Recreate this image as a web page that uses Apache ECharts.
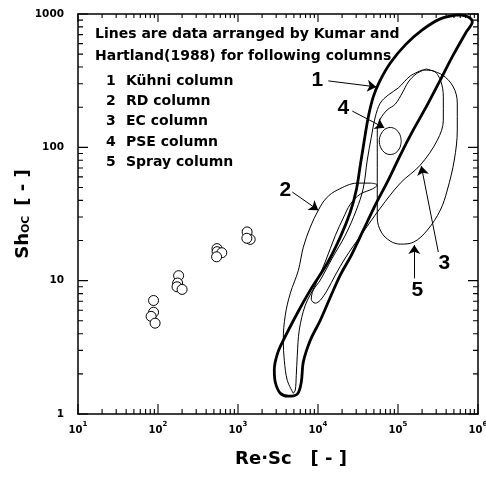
<!DOCTYPE html>
<html>
<head>
<meta charset="utf-8">
<script src="https://cdn.jsdelivr.net/npm/echarts@6/dist/echarts.min.js"></script>
<style>
  html, body { margin: 0; padding: 0; background: #fff; }
  #chart { width: 486px; height: 487px; }
</style>
</head>
<body>
<div id="chart"></div>
<script>
// ---- axis ticks ----
const xMajor = [10, 100, 1000, 10000, 100000, 1000000];
const yMajor = [1, 10, 100, 1000];
const xMinor = [];
const yMinor = [];
for (const d of [10, 100, 1000, 10000, 100000]) for (let k = 2; k < 10; k++) xMinor.push(k * d);
for (const d of [1, 10, 100]) for (let k = 2; k < 10; k++) yMinor.push(k * d);

// ---- measured points (open circles) ----
const measuredRe = [88, 88, 82, 92, 181, 176, 173, 200, 546, 548, 627, 540, 1300, 1420, 1290];
const measuredSh = [7.1, 5.8, 5.4, 4.8, 10.9, 9.6, 9.0, 8.6, 17.4, 16.5, 16.2, 15.1, 23.2, 20.4, 20.8];

// ---- data envelopes by Kumar and Hartland (1988) ----
// 1 Kühni column
const kuhniRe = [567000, 756000, 849000, 714000, 491000, 347600, 232300, 155300, 106900, 75620, 52000, 36840, 26060, 19000, 14250, 10690, 8014, 6546, 6180, 5510, 4254, 3378, 2927, 2843, 3100, 3683, 5510, 8014, 13060, 19000, 25350, 30110, 33810, 37930, 42540, 49070, 58360, 80140, 123400, 201300, 338100, 567000];
const kuhniSh = [984, 951, 873, 734, 493, 331, 208, 135, 87.5, 56.8, 36.9, 23.9, 15.5, 11.0, 7.51, 5.05, 3.57, 2.45, 1.73, 1.41, 1.36, 1.43, 1.73, 2.15, 2.81, 3.57, 5.70, 8.49, 13.5, 21.2, 32.7, 47.8, 73.6, 113, 169, 239, 309, 429, 587, 760, 919, 984];
// 2 RD column
const rdRe = [4910, 4130, 3790, 3680, 3900, 4510, 5670, 6550, 8010, 10100, 12700, 17400, 31000, 45100, 55100, 47700, 33800, 25400, 20700, 16500, 12300, 9250, 6940, 5830, 5510, 5350, 5200, 4910];
const rdSh = [1.43, 1.79, 2.53, 3.57, 5.51, 8.06, 11.9, 17.8, 25.2, 33.8, 41.6, 47.8, 53.9, 53.9, 52.1, 48.7, 44.6, 37.5, 29.5, 21.9, 13.8, 9.25, 6.55, 4.25, 2.76, 1.95, 1.51, 1.43];
// 3 EC column
const ecRe = [201300, 276300, 338100, 368500, 368500, 310100, 190000, 106900, 60100, 33810, 21940, 16450, 13060, 10690, 9251, 8240, 8734, 10690, 15100, 21940, 30110, 36840, 41300, 46370, 52000, 60100, 75620, 100900, 142500, 201300];
const ecSh = [380, 374, 320, 239, 160, 113, 73.6, 53.9, 35.0, 21.6, 14.8, 11.0, 8.49, 7.14, 6.78, 7.26, 8.49, 10.1, 14.8, 21.9, 33.8, 49.5, 80.4, 119, 169, 215, 247, 279, 343, 380];
// 4 PSE column
const pseRe = [109900, 105300, 93900, 80140, 68400, 61000, 58360, 61000, 68400, 80140, 93900, 105300, 109900];
const pseSh = [111.5, 125.2, 136.5, 140.9, 136.5, 125.2, 111.5, 99.1, 91.0, 88.3, 91.0, 99.1, 111.5];
// 5 Spray column
const sprayRe = [226000, 358100, 491200, 550900, 550900, 505400, 413300, 338100, 232300, 155300, 106900, 80140, 61860, 55080, 55080, 55080, 55080, 60100, 73470, 92500, 113200, 134500, 169300, 226000];
const spraySh = [387, 349, 284, 215, 135, 80.4, 47.8, 33.8, 23.9, 19.4, 18.8, 19.8, 23.1, 29.5, 47.8, 80.4, 135, 163, 191, 211, 256, 309, 356, 387];

// ---- callout numbers and their arrows ----
const calloutText = ['1', '2', '3', '4', '5'];
const calloutRe = [9790, 3900, 379300, 20700, 174300];
const calloutSh = [320, 47.8, 13.5, 197, 8.49];
const arrowFrom = [[13460, 315], [4773, 46.2], [319000, 16.4], [26830, 187], [159900, 10.4]];
const arrowTo = [[53550, 284], [10090, 33.8], [195400, 72.4], [67470, 140], [159900, 18.5]];

// ---- text ----
const noteLines = ['Lines are data arranged by Kumar and', 'Hartland(1988) for following columns'];
const columnNames = ['Kühni column', 'RD column', 'EC column', 'PSE column', 'Spray column'];
const xName = 'Re·Sc   [ - ]';
const yName = '{s|Sh}{o|OC}   {s|[ - ]}';

const FONT = '"DejaVu Sans", sans-serif';
const CALLOUT_FONT = 'bold 21px "Liberation Sans", Arial, sans-serif';
const pairs = (xs, ys) => xs.map((x, i) => [x, ys[i]]);
const black = '#000';
const X_MIN = 10, X_MAX = 1000000, Y_MIN = 1, Y_MAX = 1000;

// Log axes carrying the frame lines and the decade labels.
function frameAxis(kind, pos, extra) {
  return Object.assign({
    type: 'log', logBase: 10, position: pos,
    min: kind === 'x' ? X_MIN : Y_MIN, max: kind === 'x' ? X_MAX : Y_MAX,
    axisLine: { show: true, onZero: false, lineStyle: { color: black, width: 1.5 } },
    axisTick: { show: false },
    axisLabel: { show: false },
    splitLine: { show: false }
  }, extra || {});
}

const loopStyle = (w) => ({
  type: 'line', smooth: 0.35, symbol: 'none', silent: true,
  xAxisIndex: 0, yAxisIndex: 0,
  lineStyle: { color: black, width: w }
});

const chart = echarts.init(document.getElementById('chart'), null, { renderer: 'canvas' });

const textBlock = [
  ...noteLines.map((t, i) => ({
    id: 'note' + i, type: 'text', x: 95, y: 34 + i * 22, silent: true,
    style: { text: t, font: 'bold 14px ' + FONT, fill: black, verticalAlign: 'middle' }
  })),
  ...columnNames.map((t, i) => ({
    id: 'num' + i, type: 'text', x: 106, y: 81 + i * 20.3, silent: true,
    style: { text: String(i + 1), font: 'bold 14px ' + FONT, fill: black, verticalAlign: 'middle' }
  })),
  ...columnNames.map((t, i) => ({
    id: 'col' + i, type: 'text', x: 126, y: 81 + i * 20.3, silent: true,
    style: { text: t, font: 'bold 14px ' + FONT, fill: black, verticalAlign: 'middle' }
  }))
];

const option = {
  animation: false,
  backgroundColor: '#fff',
  grid: { left: 78, right: 8, top: 14, bottom: 73, outerBoundsMode: 'none' },
  xAxis: [
    frameAxis('x', 'bottom', {
      axisLabel: {
        show: true, customValues: xMajor, margin: 7,
        formatter: v => '{b|10}{e|' + Math.round(Math.log10(v)) + '}',
        rich: {
          b: { fontFamily: FONT, fontWeight: 'bold', fontSize: 10, color: black, verticalAlign: 'bottom', lineHeight: 14 },
          e: { fontFamily: FONT, fontWeight: 'bold', fontSize: 7, color: black, verticalAlign: 'top', lineHeight: 14 }
        }
      },
      name: xName, nameLocation: 'middle', nameGap: 36, nameMoveOverlap: false,
      nameTextStyle: { fontFamily: FONT, fontWeight: 'bold', fontSize: 18, color: black, padding: [0, 0, 0, 26] }
    }),
    frameAxis('x', 'top')
  ],
  yAxis: [
    frameAxis('y', 'left', {
      axisLabel: {
        show: true, customValues: yMajor, margin: 14,
        formatter: v => String(v),
        fontFamily: FONT, fontWeight: 'bold', fontSize: 10.5, color: black
      },
      name: yName, nameLocation: 'middle', nameGap: 46, nameRotate: 90, nameMoveOverlap: false,
      nameTextStyle: {
        rich: {
          s: { fontFamily: FONT, fontWeight: 'bold', fontSize: 18, color: black, verticalAlign: 'bottom' },
          o: { fontFamily: FONT, fontWeight: 'bold', fontSize: 11, color: black, verticalAlign: 'bottom' }
        }
      }
    }),
    frameAxis('y', 'right')
  ],
  series: [
    Object.assign(loopStyle(2.8), { name: 'Kühni column', data: pairs(kuhniRe, kuhniSh) }),
    Object.assign(loopStyle(1), { name: 'RD column', data: pairs(rdRe, rdSh) }),
    Object.assign(loopStyle(1), { name: 'EC column', data: pairs(ecRe, ecSh) }),
    Object.assign(loopStyle(1), { name: 'PSE column', data: pairs(pseRe, pseSh) }),
    Object.assign(loopStyle(1), { name: 'Spray column', data: pairs(sprayRe, spraySh) }),
    {
      name: 'measured', type: 'scatter', silent: true,
      xAxisIndex: 0, yAxisIndex: 0,
      symbol: 'circle', symbolSize: 10,
      itemStyle: { color: '#fff', borderColor: black, borderWidth: 1, opacity: 1 },
      data: pairs(measuredRe, measuredSh),
      markLine: {
        silent: true, animation: false,
        symbol: ['none', 'arrow'], symbolSize: 9,
        label: { show: false },
        lineStyle: { color: black, width: 1, type: 'solid', opacity: 1 },
        emphasis: { disabled: true },
        data: arrowFrom.map((a, i) => [{ coord: a }, { coord: arrowTo[i] }])
      }
    },
    {
      // inward frame ticks, filled in once the grid is laid out
      id: 'frameTicks', name: 'ticks', type: 'line', silent: true,
      xAxisIndex: 0, yAxisIndex: 0,
      symbol: 'none', connectNulls: false, clip: false,
      lineStyle: { color: black, width: 1.1 },
      data: []
    }
  ],
  graphic: textBlock
};

chart.setOption(option);

const toPx = (x, y) => chart.convertToPixel({ gridIndex: 0 }, [x, y]);
const fromPx = (px, py) => chart.convertFromPixel({ gridIndex: 0 }, [px, py]);

// Callout numbers, placed through the grid's log scales.
const callouts = calloutText.map((t, i) => {
  const p = toPx(calloutRe[i], calloutSh[i]);
  return {
    id: 'callout' + i, type: 'text', x: p[0], y: p[1], silent: true,
    style: { text: t, font: CALLOUT_FONT, fill: black, align: 'center', verticalAlign: 'middle' }
  };
});

// Tick segments: each one runs from the frame into the plot by a fixed pixel length,
// with a gap entry between segments so the line breaks.
const lo = toPx(X_MIN, Y_MIN);
const hi = toPx(X_MAX, Y_MAX);
const tickData = [];
function seg(a, b) { tickData.push(a, b, [a[0], '-']); }
function bottomTop(values, lenBottom, lenTop) {
  const yB = fromPx(lo[0], lo[1] - lenBottom)[1];
  const yT = fromPx(lo[0], hi[1] + lenTop)[1];
  values.forEach(v => { seg([v, Y_MIN], [v, yB]); seg([v, Y_MAX], [v, yT]); });
}
function leftRight(values, len) {
  const xL = fromPx(lo[0] + len, lo[1])[0];
  const xR = fromPx(hi[0] - len, lo[1])[0];
  values.forEach(v => { seg([X_MIN, v], [xL, v]); seg([X_MAX, v], [xR, v]); });
}
bottomTop(xMajor, 10, 8);
bottomTop(xMinor, 5, 4);
leftRight(yMajor, 10);
leftRight(yMinor, 5);

chart.setOption({
  series: [{ id: 'frameTicks', data: tickData }],
  graphic: textBlock.concat(callouts)
});
</script>
</body>
</html>
